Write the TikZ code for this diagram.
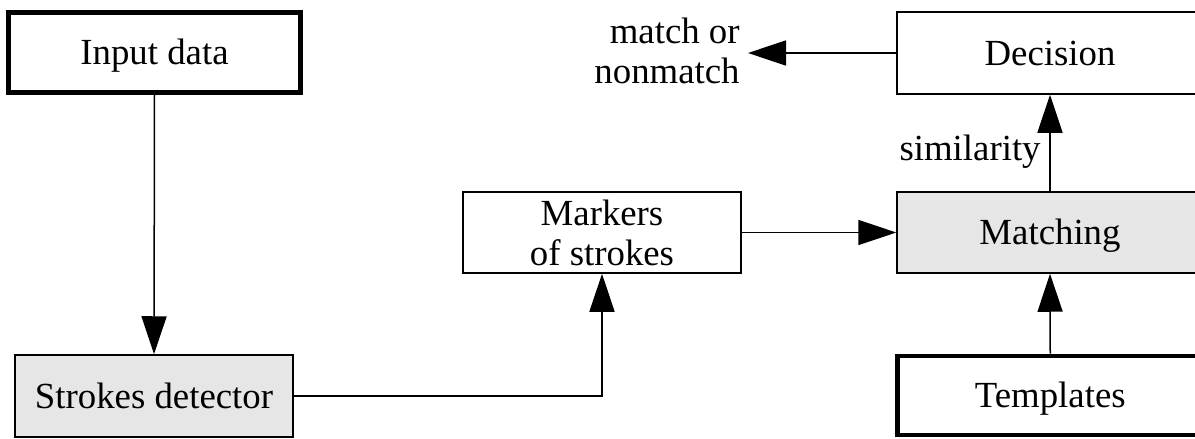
\documentclass[tikz,border=0pt]{standalone}
\usepackage{fontspec}
\setmainfont{Liberation Serif}
\usetikzlibrary{arrows.meta}
\definecolor{boxgray}{HTML}{E6E6E6}
\begin{document}
\begin{tikzpicture}[x=0.5pt,y=-0.5pt,
  font=\fontsize{18.4pt}{20pt}\selectfont,
  block/.style={draw=black,rectangle,inner sep=0pt,line width=0.75pt,
    text height=12pt,text depth=0pt},
  heavy/.style={block,line width=2.3pt},
  shaded/.style={block,fill=boxgray},
  flow/.style={draw=black,line width=0.75pt,-{Triangle[length=19pt,width=12.5pt]}}]
\useasboundingbox (0,0) rectangle (1195,439);
% process blocks
\node[heavy,minimum width=146pt,minimum height=40pt] (in) at (154.5,52.5) {Input data};
\node[shaded,minimum width=139pt,minimum height=41pt] (sd) at (154,396) {Strokes detector};
\node[block,minimum width=139pt,minimum height=40.5pt,text height=,text depth=,align=center] (mk) at (602,232.5) {Markers\\of strokes};
\node[block,minimum width=153pt,minimum height=41pt] (dc) at (1050,53) {Decision};
\node[shaded,minimum width=153pt,minimum height=40.5pt] (mt) at (1050,232.5) {Matching};
\node[heavy,minimum width=152.75pt,minimum height=39.5pt] (tp) at (1050.25,395.5) {Templates};
% labels
\coordinate (res) at (748,53);
\node[anchor=east,align=right,inner sep=0pt] (out) at (740,51) {match or\\nonmatch};
\node[anchor=base east,inner sep=0pt] (sim) at (1041,160) {similarity};
% connectors
\draw[flow] (in.south) -- (sd.north);
\draw[flow] (sd.east) -| (mk.south);
\draw[flow] (mk.east) -- (mt.west);
\draw[flow] (tp.north) -- (mt.south);
\draw[flow] (mt.north) -- (dc.south);
\draw[flow] (dc.west) -- (res);
\end{tikzpicture}
\end{document}
